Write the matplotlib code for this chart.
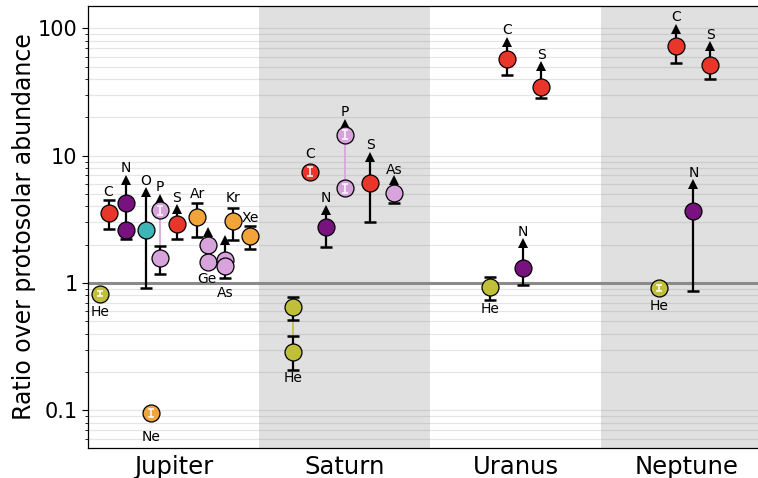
import numpy as np
import matplotlib
matplotlib.use("Agg")
import matplotlib.pyplot as plt
from matplotlib.ticker import FixedLocator, FixedFormatter, LogLocator, NullFormatter

# ---------------- data ----------------
planets = ["Jupiter", "Saturn", "Uranus", "Neptune"]

element_colors = {
    "He": "#bfbf3a", "C": "#e8372a", "N": "#78127e", "O": "#3fb5b8",
    "Ne": "#f2a33a", "P": "#d8a2dc", "S": "#e8372a", "Ar": "#f2a33a",
    "Ge": "#d8a2dc", "As": "#d8a2dc", "Kr": "#f2a33a", "Xe": "#f2a33a",
}

# one entry per plotted marker
mk_planet = [0, 0, 0, 0, 0, 0, 0, 0, 0, 0, 0, 0, 0, 0, 0, 0,
             1, 1, 1, 1, 1, 1, 1, 1,
             2, 2, 2, 2,
             3, 3, 3, 3]
mk_elem = ["He", "C", "N", "N", "O", "Ne", "P", "P", "S", "Ar", "Ge", "Ge", "As", "As", "Kr", "Xe",
           "He", "He", "C", "N", "P", "P", "S", "As",
           "He", "C", "N", "S",
           "He", "C", "N", "S"]
mk_dx = [-0.43, -0.38, -0.28, -0.28, -0.16, -0.13, -0.08, -0.08, 0.02, 0.14, 0.20, 0.20, 0.30, 0.30, 0.35, 0.45,
         -0.30, -0.30, -0.20, -0.11, 0.00, 0.00, 0.15, 0.29,
         -0.15, -0.05, 0.045, 0.15,
         -0.16, -0.06, 0.04, 0.14]
mk_val = [0.82, 3.55, 4.25, 2.6, 2.6, 0.095, 3.75, 1.58, 2.9, 3.3, 1.99, 1.47, 1.52, 1.36, 3.08, 2.34,
          0.648, 0.288, 7.5, 2.77, 14.6, 5.54, 6.14, 5.06,
          0.935, 58.0, 1.32, 34.4,
          0.91, 72.8, 3.68, 52.0]
mk_lo = [0.79, 2.65, 4.25, 2.2, 0.92, 0.088, 3.45, 1.18, 2.2, 2.3, 1.99, 1.47, 1.52, 1.09, 2.18, 1.85,
         0.51, 0.207, 6.9, 1.93, 13.6, 5.1, 3.03, 4.27,
         0.735, 43.0, 0.965, 28.5,
         0.86, 53.8, 0.87, 40.0]
mk_hi = [0.86, 4.5, 4.25, 4.25, 2.6, 0.102, 4.05, 1.95, 2.9, 4.27, 1.99, 1.99, 1.52, 1.36, 3.9, 2.82,
         0.77, 0.385, 8.2, 2.77, 15.8, 6.0, 6.14, 5.06,
         1.11, 58.0, 1.32, 34.4,
         0.97, 72.8, 3.68, 52.0]
# lower-limit arrow head position (nan = none)
mk_arrow = [np.nan, np.nan, 6.45, np.nan, 5.2, np.nan, 4.57, np.nan, 3.81, np.nan, 2.52, np.nan, 2.19, np.nan, np.nan, np.nan,
            np.nan, np.nan, np.nan, 3.74, 17.9, np.nan, 9.7, 6.45,
            np.nan, 78.6, 2.06, 50.4,
            np.nan, 99.3, 6.02, 72.8]
# error bar drawn in white inside the marker
mk_white = [True, False, False, False, False, True, True, False, False, False, False, False, False, False, False, False,
            False, False, True, False, True, True, False, False,
            False, False, False, False,
            True, False, False, False]

# pairs of markers joined by a thin line in the element colour
link_pairs = [(6, 7), (16, 17), (20, 21)]

# element labels
lb_text = ["He", "Ne", "C", "N", "O", "P", "S", "Ar", "Ge", "As", "Kr", "Xe",
           "He", "C", "N", "P", "S", "As",
           "C", "S", "He", "N",
           "C", "S", "He", "N"]
lb_planet = [0] * 12 + [1] * 6 + [2] * 4 + [3] * 4
lb_dx = [-0.43, -0.13, -0.38, -0.28, -0.16, -0.08, 0.02, 0.14, 0.195, 0.30, 0.35, 0.45,
         -0.30, -0.20, -0.11, 0.00, 0.15, 0.29,
         -0.05, 0.15, -0.15, 0.045,
         -0.06, 0.14, -0.16, 0.04]
lb_y = [0.592, 0.0617, 5.18, 8.0, 6.33, 5.63, 4.69, 5.0, 1.075, 0.834, 4.65, 3.24,
        0.179, 10.4, 4.62, 22.2, 12.1, 7.7,
        97.2, 62.0, 0.621, 2.50,
        122.0, 88.9, 0.663, 7.36]

yticks = [0.1, 1, 10, 100]
ytick_labels = ["0.1", "1", "10", "100"]

# ---------------- figure ----------------
W, H = 758, 478
fig = plt.figure(figsize=(W / 100, H / 100), dpi=100)
ax = fig.add_axes([88 / W, (H - 448) / H, (772 - 88) / W, (448 - 6) / H])
ax.set_yscale("log")
ax.set_xlim(-0.5, 3.5)
ax.set_ylim(0.0506, 150)

for i in (1, 3):
    ax.axvspan(i - 0.5, i + 0.5, color="#e0e0e0", zorder=0, lw=0)

ax.yaxis.set_minor_locator(LogLocator(base=10, subs=np.arange(2, 10), numticks=20))
ax.yaxis.set_minor_formatter(NullFormatter())
ax.grid(True, which="both", axis="y", color="#808080", alpha=0.2, lw=0.9, zorder=0.5)
ax.set_axisbelow(True)
ax.axhline(1, color="#8a8a8a", lw=2.2, zorder=1)

ax.yaxis.set_major_locator(FixedLocator(yticks))
ax.yaxis.set_major_formatter(FixedFormatter(ytick_labels))
ax.tick_params(axis="y", which="major", labelsize=15, length=4, width=0.8)
ax.tick_params(axis="y", which="minor", length=2.5, width=0.6)
ax.set_xticks(range(len(planets)))
ax.set_xticklabels(planets, fontsize=17.5)
ax.tick_params(axis="x", length=0, pad=5)
ax.set_ylabel("Ratio over protosolar abundance", fontsize=17, labelpad=1)

for a, b in link_pairs:
    x = mk_planet[a] + mk_dx[a]
    ax.plot([x, x], [mk_val[a], mk_val[b]], color=element_colors[mk_elem[a]], lw=1.2, zorder=2)

for i in range(len(mk_val)):
    x = mk_planet[i] + mk_dx[i]
    v = mk_val[i]
    col = element_colors[mk_elem[i]]
    white = mk_white[i]
    ecol = "white" if white else "black"
    ez = 5 if white else 3
    elw = 1.1 if white else 1.6
    cms = 5 if white else 8
    cmew = 1.1 if white else 1.8
    lo, hi = mk_lo[i], mk_hi[i]
    if hi > lo:
        ax.plot([x, x], [lo, hi], color=ecol, lw=elw, zorder=ez, solid_capstyle="butt")
        if hi > v or white:
            ax.plot([x], [hi], marker="_", ms=cms, mew=cmew, color=ecol, zorder=ez)
        if lo < v or white:
            ax.plot([x], [lo], marker="_", ms=cms, mew=cmew, color=ecol, zorder=ez)
    if not np.isnan(mk_arrow[i]):
        ax.plot([x, x], [v, mk_arrow[i]], color="black", lw=1.6, zorder=3)
        ax.plot([x], [mk_arrow[i]], marker="^", ms=7.5, color="black", mew=0, zorder=3)
    ax.plot([x], [v], marker="o", ms=12.2, mfc=col, mec="black", mew=0.9, zorder=4)

for t, p, dx, y in zip(lb_text, lb_planet, lb_dx, lb_y):
    ax.text(p + dx, y, t, ha="center", va="center", fontsize=10, zorder=6)

for s in ax.spines.values():
    s.set_linewidth(0.9)

fig.savefig("out.png", dpi=100)
